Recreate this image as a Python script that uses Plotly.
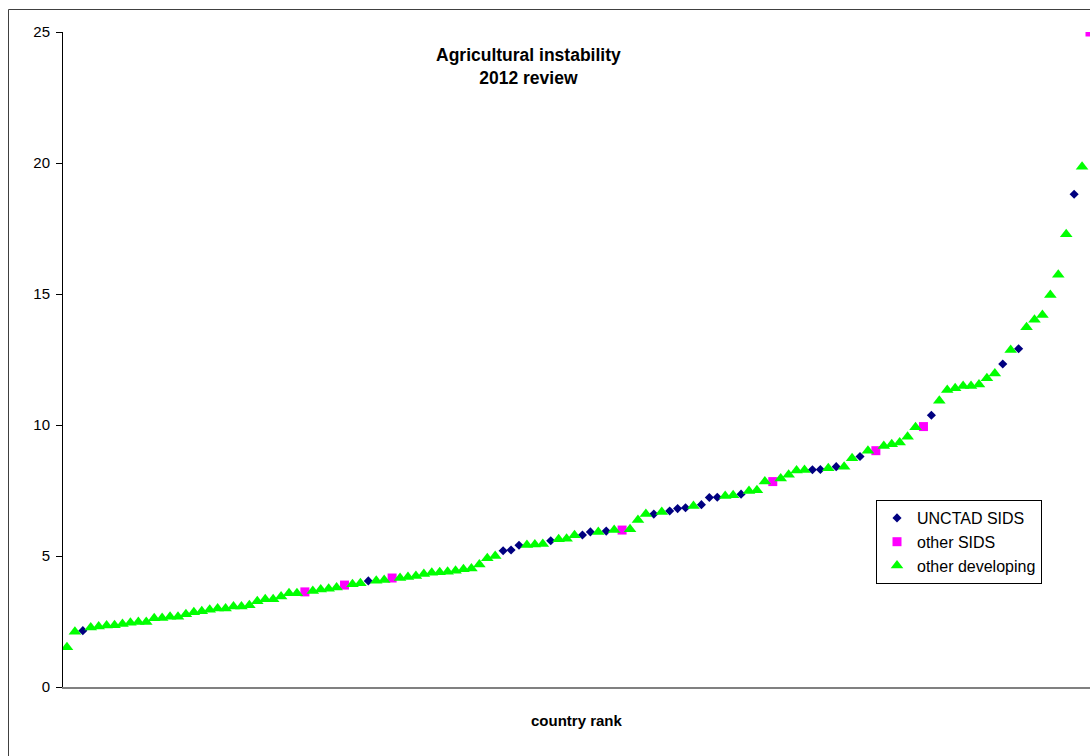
import plotly.graph_objects as go

# ---- data ----
values = [
    1.52, 2.11, 2.15, 2.27, 2.31, 2.35, 2.36, 2.40, 2.45, 2.48,
    2.48, 2.62, 2.63, 2.68, 2.68, 2.78, 2.85, 2.89, 2.95, 3.00,
    3.00, 3.07, 3.07, 3.12, 3.27, 3.35, 3.35, 3.45, 3.58, 3.58,
    3.63, 3.66, 3.72, 3.75, 3.80, 3.89, 3.92, 3.96, 4.05, 4.06,
    4.08, 4.16, 4.16, 4.20, 4.24, 4.31, 4.36, 4.38, 4.40, 4.44,
    4.49, 4.52, 4.68, 4.91, 5.00, 5.20, 5.23, 5.41, 5.42, 5.44,
    5.46, 5.58, 5.64, 5.66, 5.79, 5.80, 5.92, 5.92, 5.95, 5.99,
    5.99, 6.02, 6.37, 6.60, 6.60, 6.68, 6.72, 6.81, 6.84, 6.91,
    6.96, 7.23, 7.24, 7.29, 7.32, 7.36, 7.48, 7.51, 7.84, 7.84,
    7.96, 8.10, 8.26, 8.28, 8.29, 8.30, 8.35, 8.41, 8.41, 8.73,
    8.80, 9.02, 9.02, 9.20, 9.27, 9.33, 9.55, 9.91, 9.94, 10.37,
    10.93, 11.34, 11.40, 11.49, 11.49, 11.55, 11.78, 11.97, 12.33, 12.86,
    12.91, 13.73, 14.02, 14.20, 14.96, 15.73, 17.28, 18.81, 19.86, 25.00,
]
# U = UNCTAD SIDS, S = other SIDS, D = other developing
groups = list(
    "DDUDDDDDDD"
    "DDDDDDDDDD"
    "DDDDDDDDDD"
    "SDDDDSDDUD"
    "DSDDDDDDDD"
    "DDDDDUUUDD"
    "DUDDDUUDUD"
    "SDDDUDUUUD"
    "UUUDDUDDDS"
    "DDDDUUDUDD"
    "UDSDDDDDSU"
    "DDDDDDDDUD"
    "UDDDDDDUDS"
)
series_names = {"U": "UNCTAD SIDS", "S": "other SIDS", "D": "other developing"}
series_order = ["U", "S", "D"]
y_ticks = [0, 5, 10, 15, 20, 25]
title_lines = ["Agricultural instability", "2012 review"]
x_title = "country rank"

styles = {
    "U": dict(symbol="diamond", color="#000080", size=7),
    "S": dict(symbol="square", color="#FF00FF", size=9),
    "D": dict(symbol="triangle-up", color="#00FF00", size=11),
}

ranks = list(range(1, len(values) + 1))
FONT = "Arial, Liberation Sans, sans-serif"

fig = go.Figure()
for g in series_order:
    xs = [r for r, gg in zip(ranks, groups) if gg == g]
    ys = [v for v, gg in zip(values, groups) if gg == g]
    st = styles[g]
    fig.add_trace(go.Scatter(
        x=xs, y=ys, mode="markers", name=series_names[g],
        marker=dict(symbol=st["symbol"], color=st["color"], size=st["size"],
                    line=dict(width=0)),
    ))

# figure placed at screen (0, 0) (body margin removed after render)
W, H = 1090, 756
L, R, T, B = 63, 0, 32, 69
PLOT_X0, PLOT_Y0 = 63, 687   # plot area left / bottom in screen pixels
pw, ph = W - L - R, H - T - B

def px_x(x):
    return (x - PLOT_X0) / pw

def px_y(y):
    return (PLOT_Y0 - y) / ph

fig.update_layout(
    width=W, height=H,
    margin=dict(l=L, r=R, t=T, b=B, pad=0),
    paper_bgcolor="white", plot_bgcolor="white",
    font=dict(family=FONT, color="black", size=15),
    showlegend=True,
    legend=dict(
        x=px_x(876), y=px_y(500), xanchor="left", yanchor="top",
        bgcolor="white", bordercolor="black", borderwidth=1,
        font=dict(family=FONT, size=16, color="black"),
        itemwidth=30, tracegroupgap=0,
    ),
    xaxis=dict(
        range=[0.5, 130.0], showticklabels=False, ticks="",
        showgrid=False, zeroline=False,
        showline=True, linecolor="#808080", linewidth=2,
    ),
    yaxis=dict(
        range=[0, 25], tickvals=y_ticks, ticks="outside", ticklen=6,
        tickcolor="black", tickwidth=1,
        showgrid=False, zeroline=False,
        showline=True, linecolor="black", linewidth=1,
        tickfont=dict(family=FONT, size=15, color="black"),
        ticklabelstandoff=3,
    ),
    annotations=[
        dict(text="<b>" + "<br>".join(title_lines) + "</b>",
             xref="paper", yref="paper", x=px_x(528), y=px_y(67),
             xanchor="center", yanchor="middle", showarrow=False,
             font=dict(family=FONT, size=17.5, color="black")),
        dict(text="<b>" + x_title + "</b>",
             xref="paper", yref="paper", x=px_x(577), y=px_y(720),
             xanchor="center", yanchor="middle", showarrow=False,
             font=dict(family=FONT, size=15, color="black")),
    ],
    shapes=[
        dict(type="rect", xref="paper", yref="paper",
             x0=px_x(8.5), x1=px_x(1200), y0=px_y(800), y1=px_y(9.5),
             line=dict(color="#404040", width=1), fillcolor="rgba(0,0,0,0)",
             layer="below"),
    ],
)

fig.write_html("out.html",
               config={"displayModeBar": False},
               post_script="document.body.style.margin='0px';")
